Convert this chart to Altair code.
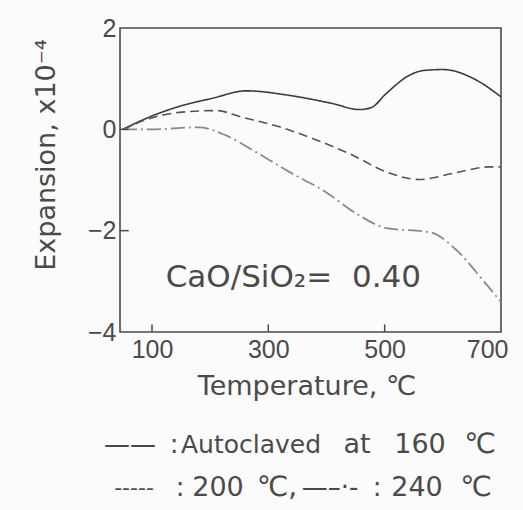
import altair as alt
import pandas as pd

# Series (temperature °C, expansion x1e-4)
t160 = [50, 95, 152, 203, 262, 336, 410, 457, 477, 503, 543, 566, 600, 658, 700]
e160 = [0.0, 0.24, 0.47, 0.61, 0.76, 0.67, 0.51, 0.39, 0.43, 0.71, 1.07, 1.16, 1.18, 0.97, 0.64]

t200 = [50, 95, 152, 210, 255, 319, 376, 445, 503, 560, 617, 681, 700]
e200 = [0.0, 0.21, 0.34, 0.37, 0.24, 0.05, -0.18, -0.51, -0.84, -0.99, -0.87, -0.74, -0.74]

t240 = [50, 95, 181, 227, 279, 336, 399, 451, 503, 578, 624, 669, 700]
e240 = [0.0, 0.0, 0.04, -0.12, -0.45, -0.84, -1.24, -1.66, -1.95, -2.03, -2.39, -2.98, -3.41]

x_ticks = [100, 300, 500, 700]
y_ticks = [2, 0, -2, -4]
x_tick_marks = [100, 300, 500]
y_tick_marks = [0, -2]

# Caption pieces below the plot (text, centre x px, centre y px, font size)
cap_text = ["Temperature, \u2103",
            "\u2014\u2014", ":", "Autoclaved", "at", "160", "\u2103",
            "-----", ":", "200", "\u2103,", "\u2014\u2013\u00b7-", ":", "240", "\u2103"]
cap_x = [187, 10, 54, 131, 237, 300, 360,
         14, 60, 98, 157, 210, 257, 297, 356]
cap_y = [359, 417, 417, 417, 417, 417, 417,
         460, 460, 460, 460, 460, 460, 460, 460]
cap_fs = [27, 26, 26, 25, 27, 27, 28,
          22, 26, 27, 28, 26, 26, 27, 28]

FONT = "DejaVu Sans"
TICKFONT = "Liberation Sans"
INK = "#4a4a4a"

rows = []
for s, ts, es in (("160", t160, e160), ("200", t200, e200), ("240", t240, e240)):
    for i, (t, e) in enumerate(zip(ts, es)):
        rows.append({"series": s, "t": t, "e": e, "order": i})
df = pd.DataFrame(rows)

xs = alt.Scale(domain=[45, 700], nice=False, zero=False)
ys = alt.Scale(domain=[-4, 2], nice=False, zero=False)

xax = alt.Axis(values=x_ticks, ticks=False, domain=False, grid=False, labelFont=TICKFONT,
               labelFontSize=25, labelColor=INK, labelPadding=5, title=None,
               labelFlush=True, labelFlushOffset=7)
yax = alt.Axis(values=y_ticks, ticks=False, domain=False, grid=False, labelFont=TICKFONT,
               labelFontSize=25, labelColor=INK, labelPadding=4, title=None, labelFlush=False,
               labelExpr="datum.value < 0 ? '\u2212' + abs(datum.value) : datum.label")

X = lambda f: alt.X(f, scale=xs, axis=xax)
Y = lambda f: alt.Y(f, scale=ys, axis=yax)

def line(series, color, dash, width):
    return alt.Chart(df[df.series == series]).mark_line(
        color=color, strokeDash=dash, strokeWidth=width, interpolate="monotone"
    ).encode(x=X("t:Q"), y=Y("e:Q"), order="order:Q")

l160 = line("160", "#3c3c3c", [1, 0], 1.6)
l200 = line("200", "#555555", [9, 5], 1.6)
l240 = line("240", "#8a8a8a", [14, 4, 2, 4], 1.8)

xt = alt.Chart(pd.DataFrame({"t": x_tick_marks, "a": [-4] * 3, "b": [-3.85] * 3})).mark_rule(
    color=INK, strokeWidth=1.5).encode(x=X("t:Q"), y=Y("a:Q"), y2="b:Q")
yt = alt.Chart(pd.DataFrame({"e": y_tick_marks, "a": [45] * 2, "b": [60] * 2})).mark_rule(
    color=INK, strokeWidth=1.5).encode(y=Y("e:Q"), x=X("a:Q"), x2="b:Q")

note = alt.Chart(pd.DataFrame({"t": [343], "e": [-2.93], "s": ["CaO/SiO\u2082=\u00a0 0.40"]})).mark_text(
    font=FONT, fontSize=31, color=INK).encode(x=X("t:Q"), y=Y("e:Q"), text="s:N")

W, H = 381, 304
texts = pd.DataFrame({"s": cap_text, "x": cap_x, "y": cap_y, "fs": cap_fs})
bottom = alt.Chart(texts).mark_text(font=FONT, color=INK, align="center").encode(
    x=alt.X("x:Q", scale=None), y=alt.Y("y:Q", scale=None), text="s:N",
    size=alt.Size("fs:Q", scale=None, legend=None))

ytitle = alt.Chart(pd.DataFrame({"s": ["Expansion, x10\u207b\u2074"]})).mark_text(
    font=FONT, fontSize=27, color=INK, angle=270).encode(
    x=alt.value(-73), y=alt.value(127), text="s:N")

chart = alt.layer(l160, l200, l240, xt, yt, note, bottom, ytitle).properties(
    width=W, height=H,
    autosize=alt.AutoSizeParams(type="none"),
    padding={"left": 120, "top": 28, "right": 22, "bottom": 178},
).configure(background="#fbfbfb").configure_view(stroke=INK, strokeWidth=1.6)

chart.save("out.html", embed_options={"renderer": "svg", "actions": False})
